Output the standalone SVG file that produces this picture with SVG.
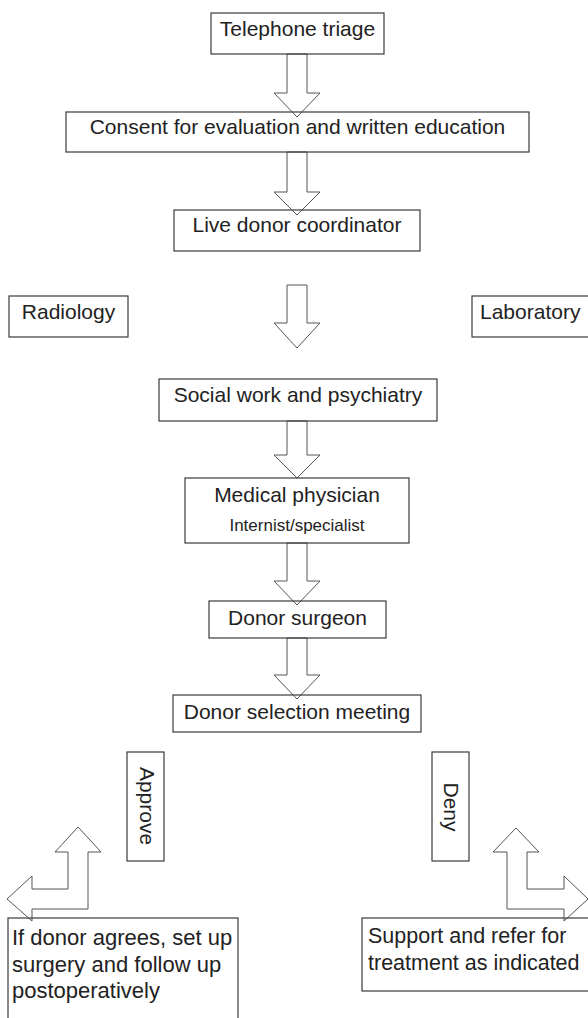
<svg xmlns="http://www.w3.org/2000/svg" width="588" height="1018" viewBox="0 0 588 1018">
<style>
.box{fill:none;stroke:#3a3a3a;stroke-width:1.2}
.arr{fill:none;stroke:#555;stroke-width:1}
text{font-family:"Liberation Sans",Arial,sans-serif;fill:#222;font-size:21px}
.c{text-anchor:middle}
.s{font-size:17px}
.bl{font-size:22px}
.br{font-size:21.5px}
</style>
<rect width="588" height="1018" fill="#fff"/>
<g id="connectors">
<polygon class="arr" points="287,54 307,54 307,93 320,93 297,117 274,93 287,93"/>
<polygon class="arr" points="287,152 307,152 307,192 320,192 297,215 274,192 287,192"/>
<polygon class="arr" points="287,285 307,285 307,323 320,323 297,348 274,323 287,323"/>
<polygon class="arr" points="287,421 307,421 307,455 320,455 297,478 274,455 287,455"/>
<polygon class="arr" points="287,543 307,543 307,581 320,581 297,605 274,581 287,581"/>
<polygon class="arr" points="287,638 307,638 307,675 320,675 297,699 274,675 287,675"/>
<polygon class="arr" points="78,827 101,852 88,852 88,909 32,909 32,921 7,899 32,876 32,889 68,889 68,852 55,852"/>
<polygon class="arr" points="516,828 539,852 527,852 527,889 564,889 564,876 588,899 564,921 564,909 507,909 507,852 493,852"/>
</g>
<g id="telephone"><rect class="box" x="211" y="13" width="173" height="41"/><text class="c" x="297.5" y="36">Telephone triage</text></g>
<g id="consent"><rect class="box" x="66" y="112" width="463" height="40"/><text class="c" x="297.5" y="134">Consent for evaluation and written education</text></g>
<g id="coordinator"><rect class="box" x="174" y="210" width="246" height="41"/><text class="c" x="297" y="232">Live donor coordinator</text></g>
<g id="radiology"><rect class="box" x="9" y="296" width="119" height="41"/><text class="c" x="68.5" y="319">Radiology</text></g>
<g id="laboratory"><rect class="box" x="472" y="296" width="130" height="41"/><text x="480" y="319">Laboratory</text></g>
<g id="social"><rect class="box" x="159" y="379" width="278" height="42"/><text class="c" x="298" y="402">Social work and psychiatry</text></g>
<g id="medical"><rect class="box" x="185" y="478" width="224" height="65"/><text class="c" x="297" y="502">Medical physician</text><text class="c s" x="297" y="531">Internist/specialist</text></g>
<g id="surgeon"><rect class="box" x="209" y="601" width="177" height="37"/><text class="c" x="297.5" y="625">Donor surgeon</text></g>
<g id="selection"><rect class="box" x="173" y="695" width="248" height="37"/><text class="c" x="297" y="719">Donor selection meeting</text></g>
<g id="approve"><rect class="box" x="127" y="752" width="37" height="109"/><text class="c" transform="translate(140 806) rotate(90)" x="0" y="0">Approve</text></g>
<g id="deny"><rect class="box" x="432" y="752" width="37" height="109"/><text class="c" transform="translate(444 807) rotate(90)" x="0" y="0">Deny</text></g>
<g id="agree"><rect class="box" x="8" y="918" width="230" height="120"/><text class="bl" x="12" y="945">If donor agrees, set up</text><text class="bl" x="12" y="972">surgery and follow up</text><text class="bl" x="12" y="998">postoperatively</text></g>
<g id="support"><rect class="box" x="362" y="918" width="240" height="73"/><text class="br" x="368" y="943">Support and refer for</text><text class="br" x="368" y="970">treatment as indicated</text></g>
</svg>
